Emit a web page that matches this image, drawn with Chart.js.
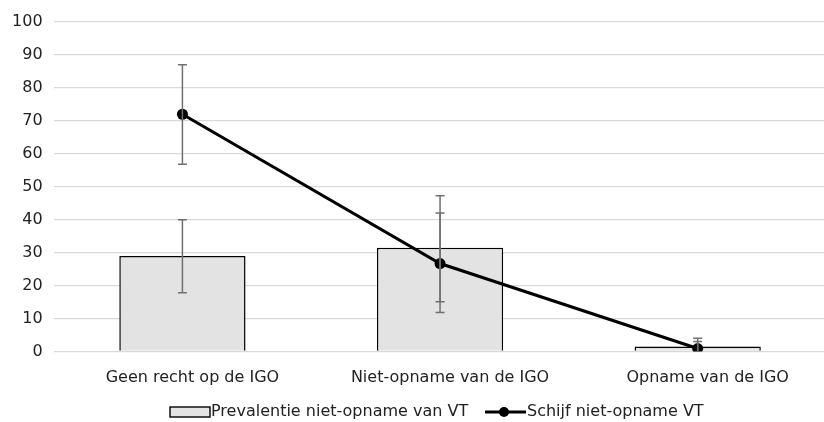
<!DOCTYPE html>
<html>
<head>
<meta charset="utf-8">
<script src="https://cdn.jsdelivr.net/npm/chart.js@4.4.1/dist/chart.umd.min.js"></script>
<style>
  html, body { margin: 0; padding: 0; background: #fff; overflow: hidden; }
  #wrap { width: 824px; height: 422px; position: relative; overflow: hidden; }
</style>
</head>
<body>
<div id="wrap"><canvas id="c" width="832" height="422"></canvas></div>
<script>
const categories = ['Geen recht op de IGO', 'Niet-opname van de IGO', 'Opname van de IGO'];
const prevalentie = [29, 31.5, 1.5];
const prevalentieLow = [17.8, 15.1, 0];
const prevalentieHigh = [40, 42, 3.0];
const schijf = [72, 26.7, 0.9];
const schijfLow = [56.8, 11.8, 0];
const schijfHigh = [87, 47.3, 4.0];
const yTicks = [0, 10, 20, 30, 40, 50, 60, 70, 80, 90, 100];

const FONT = "'DejaVu Sans', sans-serif";
const TEXT = '#222';

// Whisker plugin: draws the confidence intervals for both datasets
const errorBars = {
  id: 'errorBars',
  afterDatasetsDraw(chart) {
    const ctx = chart.ctx;
    const y = chart.scales.y;
    const sets = [
      { meta: chart.getDatasetMeta(0), lo: prevalentieLow, hi: prevalentieHigh },
      { meta: chart.getDatasetMeta(1), lo: schijfLow, hi: schijfHigh }
    ];
    ctx.save();
    ctx.strokeStyle = '#707070';
    ctx.lineWidth = 1.5;
    sets.forEach(s => {
      s.meta.data.forEach((el, i) => {
        const x = el.x;
        const yl = y.getPixelForValue(s.lo[i]);
        const yh = y.getPixelForValue(s.hi[i]);
        ctx.beginPath();
        ctx.moveTo(x, yl); ctx.lineTo(x, yh);
        if (s.lo[i] > 0) { ctx.moveTo(x - 4.5, yl); ctx.lineTo(x + 4.5, yl); }
        ctx.moveTo(x - 4.5, yh); ctx.lineTo(x + 4.5, yh);
        ctx.stroke();
      });
    });
    ctx.restore();
  }
};

// Legend drawn below the category labels
const bottomLegend = {
  id: 'bottomLegend',
  afterDraw(chart) {
    const ctx = chart.ctx;
    const cy = 412;
    ctx.save();
    ctx.font = '16px ' + FONT;
    ctx.textBaseline = 'middle';
    // bar item
    ctx.fillStyle = '#e3e3e3';
    ctx.fillRect(170, cy - 5, 40, 10);
    ctx.strokeStyle = '#000';
    ctx.lineWidth = 1.4;
    ctx.strokeRect(170, cy - 5, 40, 10);
    ctx.fillStyle = TEXT;
    ctx.textAlign = 'left';
    ctx.fillText(chart.data.datasets[0].label, 211, cy);
    // line item
    ctx.strokeStyle = '#000';
    ctx.lineWidth = 3;
    ctx.beginPath();
    ctx.moveTo(485, cy); ctx.lineTo(526, cy);
    ctx.stroke();
    ctx.beginPath();
    ctx.arc(504, cy, 5, 0, Math.PI * 2);
    ctx.fillStyle = '#000';
    ctx.fill();
    ctx.fillStyle = TEXT;
    ctx.fillText(chart.data.datasets[1].label, 527, cy);
    ctx.restore();
  }
};

new Chart(document.getElementById('c'), {
  data: {
    labels: categories,
    datasets: [
      {
        type: 'bar',
        label: 'Prevalentie niet-opname van VT',
        data: prevalentie,
        backgroundColor: '#e3e3e3',
        borderColor: '#000',
        borderWidth: 1.5,
        barPercentage: 0.49,
        categoryPercentage: 1.0,
        order: 2
      },
      {
        type: 'line',
        label: 'Schijf niet-opname VT',
        data: schijf,
        borderColor: '#000',
        backgroundColor: '#000',
        borderWidth: 3,
        pointRadius: 5.5,
        pointBackgroundColor: '#000',
        pointBorderWidth: 0,
        tension: 0,
        order: 1
      }
    ]
  },
  options: {
    responsive: false,
    animation: false,
    layout: { padding: { top: 22, right: 0, left: 0, bottom: 0 } },
    plugins: {
      legend: { display: false },
      tooltip: { enabled: false }
    },
    scales: {
      x: {
        grid: { display: false },
        border: { display: false },
        ticks: { color: TEXT, font: { family: FONT, size: 16 }, padding: 9, labelOffset: 10 },
        afterFit(s) { s.height = 70.5; s.paddingLeft = 0; s.paddingRight = 0; }
      },
      y: {
        min: 0,
        max: 100,
        afterBuildTicks(s) { s.ticks = yTicks.map(v => ({ value: v })); },
        grid: { color: '#d9d9d9', lineWidth: 1.3, drawTicks: false },
        border: { display: false },
        ticks: { color: TEXT, font: { family: FONT, size: 16 }, padding: 11 },
        afterFit(s) { s.width = 53.6; s.paddingTop = 0; s.paddingBottom = 0; }
      }
    }
  },
  plugins: [errorBars, bottomLegend]
});
</script>
</body>
</html>
